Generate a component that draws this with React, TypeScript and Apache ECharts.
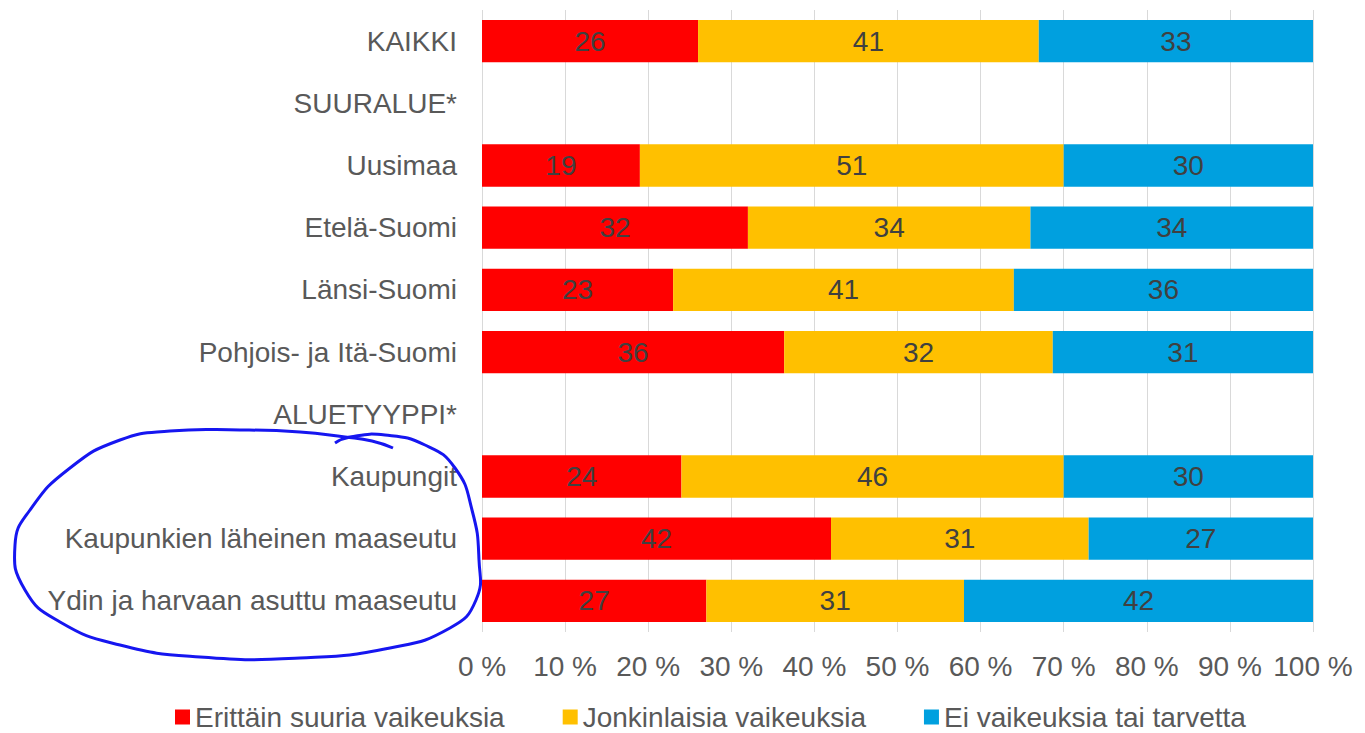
import React, { useEffect, useRef } from "react";
import * as echarts from "echarts";

const categories = [
  "KAIKKI",
  "SUURALUE*",
  "Uusimaa",
  "Etelä-Suomi",
  "Länsi-Suomi",
  "Pohjois- ja Itä-Suomi",
  "ALUETYYPPI*",
  "Kaupungit",
  "Kaupunkien läheinen maaseutu",
  "Ydin ja harvaan asuttu maaseutu",
];

const seriesNames = [
  "Erittäin suuria vaikeuksia",
  "Jonkinlaisia vaikeuksia",
  "Ei vaikeuksia tai tarvetta",
];

const erittainSuuria: (number | null)[] = [26, null, 19, 32, 23, 36, null, 24, 42, 27];
const jonkinlaisia: (number | null)[] = [41, null, 51, 34, 41, 32, null, 46, 31, 31];
const eiVaikeuksia: (number | null)[] = [33, null, 30, 34, 36, 31, null, 30, 27, 42];

const xTicks = [0, 10, 20, 30, 40, 50, 60, 70, 80, 90, 100];

const colors = ["#FF0000", "#FFC000", "#00A0DF"];

const loopPoints: number[][] = [
  [393, 448], [372, 441], [345, 437], [300, 432], [240, 430], [170, 431], [120, 440],
  [70, 468], [30, 510], [15, 545], [25, 590], [60, 622], [120, 645], [200, 657],
  [300, 658], [390, 648], [450, 628], [476, 600], [479, 560], [472, 510], [455, 468],
  [425, 445], [385, 435], [350, 437], [335, 443],
];

export default function App() {
  const ref = useRef<HTMLDivElement>(null);
  useEffect(() => {
    document.body.style.margin = "0";
    if (!ref.current) return;
    const chart = echarts.init(ref.current, undefined, { renderer: "svg" });
    const raw = [erittainSuuria, jonkinlaisia, eiVaikeuksia];
    const sums = categories.map((_, i) =>
      raw.reduce((s, arr) => s + (arr[i] ?? 0), 0)
    );
    const font = "'Liberation Sans', Arial, sans-serif";
    chart.setOption({
      animation: false,
      textStyle: { fontFamily: font },
      grid: { left: 482, right: 52, top: 10, bottom: 101, containLabel: false },
      legend: {
        bottom: -3,
        left: 170,
        icon: "rect",
        itemWidth: 15,
        itemHeight: 15,
        itemGap: 58,
        data: seriesNames,
        textStyle: { fontSize: 28, color: "#595959", fontFamily: font },
      },
      xAxis: {
        type: "value",
        min: 0,
        max: 100,
        interval: 10,
        axisLine: { show: false },
        axisTick: { show: false },
        splitLine: { show: true, lineStyle: { color: "#D9D9D9", width: 1 } },
        axisLabel: {
          fontSize: 28,
          color: "#595959",
          margin: 20,
          fontFamily: font,
          formatter: (v: number) => (xTicks.includes(v) ? `${v} %` : ""),
        },
      },
      yAxis: {
        type: "category",
        inverse: true,
        data: categories,
        axisLine: { show: false },
        axisTick: { show: false },
        axisLabel: { fontSize: 28, color: "#595959", margin: 25, fontFamily: font },
      },
      series: seriesNames.map((name, si) => ({
        name,
        type: "bar",
        stack: "total",
        barCategoryGap: "32%",
        itemStyle: { color: colors[si] },
        label: {
          show: true,
          position: "inside",
          fontSize: 28,
          color: "#404040",
          fontFamily: font,
          formatter: (p: any) => {
            const v = raw[si][p.dataIndex];
            return v == null ? "" : String(v);
          },
        },
        data: raw[si].map((v, i) => (v == null ? null : (v / sums[i]) * 100)),
      })),
      graphic: [
        {
          type: "polyline",
          silent: true,
          z: 100,
          shape: { points: loopPoints, smooth: 0.5 },
          style: { stroke: "#1616F0", lineWidth: 3, fill: "none" },
        },
      ],
    });
    return () => chart.dispose();
  }, []);
  return <div ref={ref} style={{ width: 1365, height: 733 }} />;
}
